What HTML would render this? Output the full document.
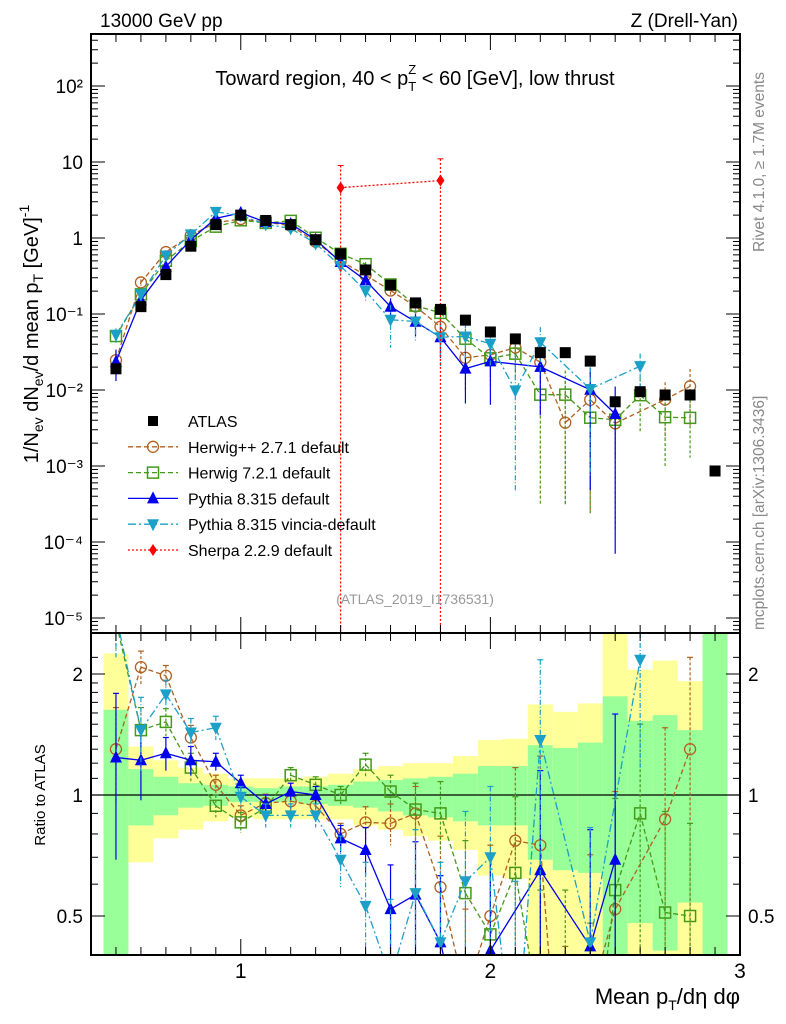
<!DOCTYPE html>
<html><head><meta charset="utf-8"><style>
html,body{margin:0;padding:0;background:#fff;overflow:hidden;width:786px;height:1024px;}
svg{display:block;font-family:"Liberation Sans",Arial,sans-serif;overflow:hidden;}
</style></head><body>
<svg id="c" width="786" height="1024" viewBox="0 0 786 1024" xmlns="http://www.w3.org/2000/svg">
<rect x="0" y="0" width="786" height="1024" fill="#fff"/>
<g id="bands"></g>
<g id="marks"></g>
<g id="axes"></g>
<text x="100" y="27" font-size="19">13000 GeV pp</text>
<text x="738" y="27" font-size="19" text-anchor="end">Z (Drell-Yan)</text>
<text x="415" y="85" font-size="20" text-anchor="middle">Toward region, 40 &lt; p<tspan font-size="13" dy="6">T</tspan><tspan font-size="13" dx="-8" dy="-17">Z</tspan><tspan dy="11"> &lt; 60 [GeV], low thrust</tspan></text>
<text x="415" y="604" font-size="14" fill="#999" text-anchor="middle">(ATLAS_2019_I1736531)</text>
<text transform="translate(764,252) rotate(-90)" font-size="15.5" fill="#888">Rivet 4.1.0, ≥ 1.7M events</text>
<text transform="translate(764,630) rotate(-90)" font-size="15.5" fill="#888">mcplots.cern.ch [arXiv:1306.3436]</text>
<text transform="translate(38,334) rotate(-90)" font-size="20" text-anchor="middle">1/N<tspan font-size="14" dy="5">ev</tspan><tspan dy="-5"> dN</tspan><tspan font-size="14" dy="5">ev</tspan><tspan dy="-5">/d mean p</tspan><tspan font-size="14" dy="5">T</tspan><tspan dy="-5"> [GeV]</tspan><tspan font-size="14" dy="-9">-1</tspan></text>
<text transform="translate(45,795) rotate(-90)" font-size="15" text-anchor="middle">Ratio to ATLAS</text>
<text x="740" y="1004" font-size="22" text-anchor="end">Mean p<tspan font-size="14" dy="6">T</tspan><tspan dy="-6">/dη dφ</tspan></text>
<g id="legend"></g>
</svg>
<script>
const xCenters=[0.5,0.6,0.7,0.8,0.9,1.0,1.1,1.2,1.3,1.4,1.5,1.6,1.7,1.8,1.9,2.0,2.1,2.2,2.3,2.4,2.5,2.6,2.7,2.8,2.9];
const atlas=[0.019,0.125,0.33,0.78,1.5,2.0,1.7,1.5,0.95,0.62,0.38,0.24,0.14,0.115,0.083,0.058,0.047,0.031,0.031,0.024,0.0070,0.0095,0.0086,0.0086,0.00086];
const herwigppRatio=[1.30,2.08,1.98,1.39,1.06,0.89,0.955,0.965,0.94,0.80,0.855,0.85,0.90,0.59,0.32,0.50,0.77,0.75,0.12,0.31,0.52,null,0.87,1.30,null];
const herwig7Ratio=[2.7,1.45,1.52,1.17,0.94,0.855,0.93,1.12,1.06,1.0,1.19,1.02,0.92,0.90,0.57,0.45,0.64,0.28,0.28,0.18,0.58,0.90,0.51,0.50,null];
const pythiaRatio=[1.24,1.22,1.27,1.22,1.21,1.07,0.95,1.02,1.0,0.78,0.73,0.52,0.565,0.43,0.23,0.41,null,0.65,null,0.42,0.69,null,null,null,null];
const vinciaRatio=[2.8,1.45,1.78,1.43,1.47,0.99,0.89,0.89,0.89,0.69,0.53,0.35,0.57,0.43,0.61,0.70,0.21,1.37,null,0.43,null,2.17,null,null,null];
const sherpaX=[1.4,1.8];
const sherpaVal=[4.6,5.7];
const sherpaUp=[9,11];
const herwigppErr=[0.35,0.2,0.12,0.1,0.06,0.05,0.05,0.05,0.05,0.05,0.08,0.1,0.15,0.2,0.2,0.25,0.4,0.5,0.3,0.4,0.5,0,0.6,0.9,0];
const herwig7Err=[0.4,0.2,0.12,0.1,0.06,0.05,0.05,0.05,0.05,0.05,0.08,0.1,0.15,0.18,0.2,0.25,0.35,0.3,0.3,0.3,0.4,0.6,0.4,0.35,0];
const pythiaErr=[0.55,0.25,0.12,0.1,0.06,0.05,0.05,0.05,0.05,0.06,0.1,0.15,0.2,0.2,0.15,0.3,0,0.5,0,0.4,0.9,0,0,0,0];
const vinciaErr=[0.6,0.3,0.15,0.12,0.1,0.06,0.06,0.06,0.06,0.1,0.15,0.2,0.25,0.25,0.3,0.35,0.4,0.8,0,0.4,0,1.0,0,0,0];
const bandInnerHi=[1.63,1.16,1.11,1.07,1.06,1.05,1.04,1.05,1.05,1.06,1.08,1.09,1.10,1.11,1.13,1.18,1.18,1.33,1.31,1.35,1.76,1.53,1.58,1.45,3];
const bandInnerLo=[0.3,0.84,0.89,0.93,0.94,0.96,0.96,0.96,0.95,0.94,0.93,0.91,0.89,0.88,0.86,0.84,0.84,0.69,0.65,0.64,0.3,0.48,0.41,0.54,0.3];
const bandOuterHi=[2.25,1.32,1.22,1.17,1.13,1.10,1.10,1.10,1.11,1.13,1.16,1.18,1.20,1.20,1.25,1.37,1.38,1.68,1.61,1.69,3,2.05,2.16,1.92,3];
const bandOuterLo=[0.3,0.68,0.78,0.82,0.86,0.88,0.87,0.87,0.87,0.87,0.84,0.82,0.79,0.77,0.73,0.63,0.62,0.3,0.3,0.3,0.3,0.3,0.3,0.3,0.3];
const mainTicks=[[2,"10²"],[1,"10"],[0,"1"],[-1,"10⁻¹"],[-2,"10⁻²"],[-3,"10⁻³"],[-4,"10⁻⁴"],[-5,"10⁻⁵"]];
const ratioTicks=[[0.5,"0.5"],[1,"1"],[2,"2"]];
const xTicks=[[1,"1"],[2,"2"],[3,"3"]];

const NS="http://www.w3.org/2000/svg";
const L=91,R=740,T=34,MB=633,RB=955;
const X=v=>L+(v-0.4)*(R-L)/2.6;
const Y=v=>238-Math.log10(v)*76;
const YR=r=>795-Math.log2(r)*121;
const clampR=y=>Math.max(MB,Math.min(RB,y));
function el(tag,attrs,parent){const e=document.createElementNS(NS,tag);for(const k in attrs)e.setAttribute(k,attrs[k]);parent.appendChild(e);return e;}
// clip a segment to y-range [a,b]; returns null if fully outside
function clipSeg(x1,y1,x2,y2,a,b){
 if((y1<a&&y2<a)||(y1>b&&y2>b))return null;
 const f=(yy)=>x1+(x2-x1)*(yy-y1)/(y2-y1);
 if(y1<a){x1=f(a);y1=a;}else if(y1>b){x1=f(b);y1=b;}
 if(y2<a){x2=x1+(x2-x1)*0; }
 // recompute second end using original line
 return [x1,y1,x2,y2];
}
function drawPath(pts,a,b,attrs,parent){
 let d='';
 for(let k=0;k<pts.length-1;k++){
  let [x1,y1]=pts[k],[x2,y2]=pts[k+1];
  if((y1<a&&y2<a)||(y1>b&&y2>b))continue;
  const lx=(yy)=>pts[k][0]+(pts[k+1][0]-pts[k][0])*(yy-pts[k][1])/(pts[k+1][1]-pts[k][1]);
  if(y1<a){x1=lx(a);y1=a;}else if(y1>b){x1=lx(b);y1=b;}
  if(y2<a){x2=lx(a);y2=a;}else if(y2>b){x2=lx(b);y2=b;}
  d+=`M${x1.toFixed(2)},${y1.toFixed(2)}L${x2.toFixed(2)},${y2.toFixed(2)}`;
 }
 return el('path',Object.assign({d},attrs),parent);
}
const cl=(y,a,b)=>Math.max(a,Math.min(b,y));
const bands=document.getElementById('bands'),marks=document.getElementById('marks'),axes=document.getElementById('axes'),legend=document.getElementById('legend');

xCenters.forEach((x,i)=>{
 const x0=X(x-0.05),x1=X(x+0.05);
 const y1=clampR(YR(bandOuterHi[i])),y2=clampR(YR(bandOuterLo[i]));
 const b=el('rect',{x:x0,y:y1,width:x1-x0,height:y2-y1,fill:'#ffff99'},bands);
 
 
 const y3=clampR(YR(bandInnerHi[i])),y4=clampR(YR(bandInnerLo[i]));
 const g=el('rect',{x:x0,y:y3,width:x1-x0,height:y4-y3,fill:'#99ff99'},bands);
 
 
});
el('line',{x1:L,x2:R,y1:YR(1),y2:YR(1),stroke:'#000','stroke-width':1.3},bands);

function marker(type,cx,cy,col,parent){
 if(type==='circle')return el('circle',{cx,cy,r:5.5,fill:'none',stroke:col,'stroke-width':1.3},parent);
 if(type==='square')return el('rect',{x:cx-5.5,y:cy-5.5,width:11,height:11,fill:'none',stroke:col,'stroke-width':1.5},parent);
 if(type==='up')return el('polygon',{points:`${cx},${cy-7} ${cx-6},${cy+5} ${cx+6},${cy+5}`,fill:col},parent);
 if(type==='down')return el('polygon',{points:`${cx},${cy+7} ${cx-6},${cy-5} ${cx+6},${cy-5}`,fill:col},parent);
 if(type==='diamond')return el('polygon',{points:`${cx},${cy-6} ${cx-4},${cy} ${cx},${cy+6} ${cx+4},${cy}`,fill:col},parent);
 return el('rect',{x:cx-5.5,y:cy-5.5,width:11,height:11,fill:col},parent);
}
const series=[
 {name:'herwigpp',ratio:herwigppRatio,err:herwigppErr,col:'#b06020',dash:'5,3',m:'circle'},
 {name:'herwig7',ratio:herwig7Ratio,err:herwig7Err,col:'#44991a',dash:'5,3',m:'square'},
 {name:'pythia',ratio:pythiaRatio,err:pythiaErr,col:'#0000ee',dash:'',m:'up'},
 {name:'vincia',ratio:vinciaRatio,err:vinciaErr,col:'#1ba0c8',dash:'8,3,2,3',m:'down'}
];
const gm=el('g',{},marks);
const gr=el('g',{},marks);
const inM=y=>y>=T-2&&y<=MB+2, inR=y=>y>=MB-2&&y<=RB+2;
series.forEach(s=>{
 const gM=el('g',{},gm);
 
 
 const gR=el('g',{},gr);
 
 
 const ptsM=[],ptsR=[];
 xCenters.forEach((x,i)=>{const r=s.ratio[i];if(r==null)return;
  ptsM.push([X(x),Y(r*atlas[i])]);ptsR.push([X(x),YR(r)]);});
 const lineAttr={fill:'none',stroke:s.col,'stroke-width':1.3};
 if(s.dash)lineAttr['stroke-dasharray']=s.dash;
 const pM=drawPath(ptsM,T,MB,lineAttr,gM);
 
 
 const pR=drawPath(ptsR,MB,RB,lineAttr,gR);
 
 
 xCenters.forEach((x,i)=>{const r=s.ratio[i];if(r==null)return;const e=s.err[i];
  const cx=X(x);
  const hi=r+e,lo=Math.max(r-e,0.01);
  const ea={stroke:s.col,'stroke-width':1.2};if(s.dash)ea['stroke-dasharray']=s.dash==='5,3'?'3,2':'5,2,1,2';
  const rh=YR(hi),rl=YR(lo);
  if(!(rh>RB||rl<MB))el('line',Object.assign({x1:cx,x2:cx,y1:cl(rh,MB,RB),y2:cl(rl,MB,RB)},ea),gR);
  if(inR(rh))el('line',{x1:cx-3,x2:cx+3,y1:rh,y2:rh,stroke:s.col,'stroke-width':1.2},gR);
  const mh=Y(hi*atlas[i]),ml=Y(lo*atlas[i]);
  if(!(mh>MB||ml<T))el('line',Object.assign({x1:cx,x2:cx,y1:cl(mh,T,MB),y2:cl(ml,T,MB)},ea),gM);
  const ym=Y(r*atlas[i]);
  if(inM(ym)){const mm=marker(s.m,cx,ym,s.col,gM);
  
  }
  const yr=YR(r);
  if(inR(yr)){const mr=marker(s.m,cx,yr,s.col,gR);
  
  }
 });
});
const gs=el('g',{},gm);


el('polyline',{points:sherpaX.map((x,i)=>X(x)+','+Y(sherpaVal[i])).join(' '),fill:'none',stroke:'#f00','stroke-width':1.3,'stroke-dasharray':'2,2'},gs);
sherpaX.forEach((x,i)=>{const cx=X(x);
 el('line',{x1:cx,x2:cx,y1:Y(sherpaUp[i]),y2:MB,stroke:'#f00','stroke-width':1.2,'stroke-dasharray':'2,2'},gs);
 el('line',{x1:cx-3,x2:cx+3,y1:Y(sherpaUp[i]),y2:Y(sherpaUp[i]),stroke:'#f00'},gs);
 const d=marker('diamond',cx,Y(sherpaVal[i]),'#f00',gs);
 
 
});
const ga=el('g',{},gm);


xCenters.forEach((x,i)=>{const m=marker('filled',X(x),Y(atlas[i]),'#000',ga);
 
 });

el('rect',{x:L,y:T,width:R-L,height:MB-T,fill:'none',stroke:'#000','stroke-width':2},axes);
el('rect',{x:L,y:MB,width:R-L,height:RB-MB,fill:'none',stroke:'#000','stroke-width':2},axes);
for(let d=-6;d<=2;d++){for(let k=1;k<10;k++){const y=Y(k*Math.pow(10,d));if(y<T||y>MB)continue;const len=k===1?14:7;
 el('line',{x1:L,x2:L+len,y1:y,y2:y,stroke:'#000'},axes);el('line',{x1:R-len,x2:R,y1:y,y2:y,stroke:'#000'},axes);}}
mainTicks.forEach(([p,t])=>{const tx=el('text',{x:L-8,y:Y(Math.pow(10,p))+7,'font-size':19,'text-anchor':'end'},axes);tx.textContent=t;
 
 });
[0.5,0.6,0.7,0.8,0.9,1.1,1.2,1.3,1.4,1.5,1.6,1.7,1.8,1.9,2,2.2].forEach(v=>{const y=YR(v);if(y<MB||y>RB)return;const len=(v===0.5||v===2)?14:7;
 el('line',{x1:L,x2:L+len,y1:y,y2:y,stroke:'#000'},axes);el('line',{x1:R-len,x2:R,y1:y,y2:y,stroke:'#000'},axes);});
ratioTicks.forEach(([v,t])=>{const y=YR(v)+7;
 const a=el('text',{x:L-8,y,'font-size':19,'text-anchor':'end'},axes);a.textContent=t;
 
 
 const b=el('text',{x:R+8,y,'font-size':19},axes);b.textContent=t;
 
 });
for(let i=5;i<=29;i++){const v=i/10,x=X(v);const len=(i%10===0)?16:8;
 [[T,1],[MB,-1],[MB,1],[RB,-1]].forEach(([y0,s])=>el('line',{x1:x,x2:x,y1:y0,y2:y0+s*len,stroke:'#000'},axes));}
xTicks.forEach(([v,t])=>{const tx=el('text',{x:X(v),y:978,'font-size':21,'text-anchor':'middle'},axes);tx.textContent=t;
 
 });

const leg=[['ATLAS','#000','','filled'],['Herwig++ 2.7.1 default','#b06020','5,3','circle'],['Herwig 7.2.1 default','#44991a','5,3','square'],['Pythia 8.315 default','#0000ee','','up'],['Pythia 8.315 vincia-default','#1ba0c8','8,3,2,3','down'],['Sherpa 2.2.9 default','#f00','2,2','diamond']];
leg.forEach(([t,c,d,m],i)=>{const y=421+i*25.8;const g=el('g',{},legend);
 
 
 if(i>0){const a={x1:128,x2:178,y1:y,y2:y,stroke:c,'stroke-width':1.3};if(d)a['stroke-dasharray']=d;el('line',a,g);}
 if(m==='filled')el('rect',{x:148,y:y-5,width:10,height:10,fill:'#000'},g);else marker(m,153,y,c,g);
 const tx=el('text',{x:188,y:y+6,'font-size':16},g);tx.textContent=t;});
</script>
</body></html>
